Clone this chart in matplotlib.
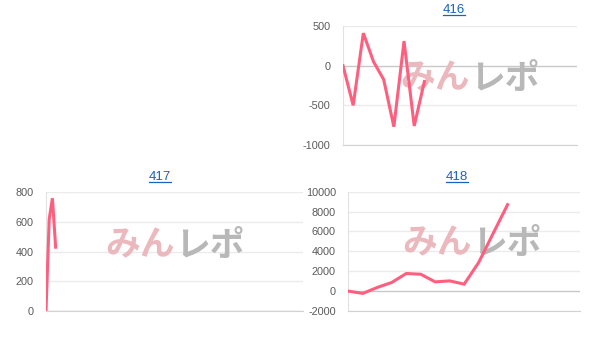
import matplotlib
matplotlib.use('Agg')
import matplotlib.pyplot as plt
from matplotlib.lines import Line2D

plt.rcParams['font.family'] = ['Liberation Sans', 'DejaVu Sans']

LINE_COLOR = '#ff5f7e'
GRID_COLOR = '#ebebeb'
ZERO_COLOR = '#c8c8c8'
TICK_COLOR = '#5a5a5a'
LINK_COLOR = '#1a62c0'

# chart 416
x416 = list(range(9))
y416 = [0, -500, 410, 50, -175, -770, 310, -760, -200]
ticks416 = [-1000, -500, 0, 500]

# chart 417
x417 = list(range(4))
y417 = [0, 620, 760, 430]
ticks417 = [0, 200, 400, 600, 800]

# chart 418
x418 = list(range(12))
y418 = [0, -230, 370, 870, 1770, 1700, 930, 1030, 700, 2870, 5800, 8700]
ticks418 = [-2000, 0, 2000, 4000, 6000, 8000, 10000]

fig = plt.figure(figsize=(6.08, 3.40), dpi=100)

W, H = 608, 340


def px_rect(x0, y0, x1, y1):
    # pixel box (top-left origin) -> figure fraction
    return [x0 / W, 1 - y1 / H, (x1 - x0) / W, (y1 - y0) / H]


def make_panel(rect, xs, ys, ticks, xmax, title, title_xy, mark_xy):
    ax = fig.add_axes(rect)
    ax.plot(xs, ys, color=LINE_COLOR, lw=2.2, solid_joinstyle='miter', zorder=3)
    ax.set_xlim(0, xmax)
    ax.set_ylim(ticks[0], ticks[-1])
    ax.set_yticks(ticks)
    ax.set_yticklabels([str(t) for t in ticks])
    ax.set_xticks([])
    ax.tick_params(axis='y', length=0, pad=9, labelsize=7.8, labelcolor=TICK_COLOR)
    for t in ticks:
        c = ZERO_COLOR if t == 0 else GRID_COLOR
        ax.axhline(t, color=c, lw=1, zorder=1)
    for s in ['top', 'right']:
        ax.spines[s].set_visible(False)
    ax.spines['left'].set_color('#e2e2e2')
    ax.spines['bottom'].set_color('#d2d2d2')

    # watermark, under the line
    mx, my = mark_xy
    ax.text(mx / W, 1 - my / H, 'みん', family=['Noto Sans CJK JP'],
            fontsize=25, fontweight='bold', color='#ebb9bd',
            ha='right', va='center', zorder=2, transform=fig.transFigure,
            clip_on=False)
    ax.text(mx / W, 1 - my / H, 'レポ', family=['Noto Sans CJK JP'],
            fontsize=25, fontweight='bold', color='#b8b8b8',
            ha='left', va='center', zorder=2, transform=fig.transFigure,
            clip_on=False)

    # title link
    tx, ty = title_xy
    t = fig.text(tx / W, 1 - ty / H, title, color=LINK_COLOR, fontsize=9.5,
                 ha='center', va='center')
    return t


titles = []
titles.append(make_panel(px_rect(343, 26, 577, 145), x416, y416, ticks416, 23,
                         '416', (454, 10), (470, 78)))
titles.append(make_panel(px_rect(46, 192.3, 303, 311), x417, y417, ticks417, 80,
                         '417', (160, 177), (175, 245)))
titles.append(make_panel(px_rect(348.3, 191.7, 580, 311), x418, y418, ticks418, 16,
                         '418', (457, 177), (472, 243)))

# underline the link titles
fig.canvas.draw()
r = fig.canvas.get_renderer()
for t in titles:
    bb = t.get_window_extent(r)
    yline = (bb.y0 + 1.0) / H
    fig.add_artist(Line2D([bb.x0 / W, bb.x1 / W], [yline, yline],
                          color=LINK_COLOR, lw=0.9))

fig.savefig('out.png', dpi=100)
